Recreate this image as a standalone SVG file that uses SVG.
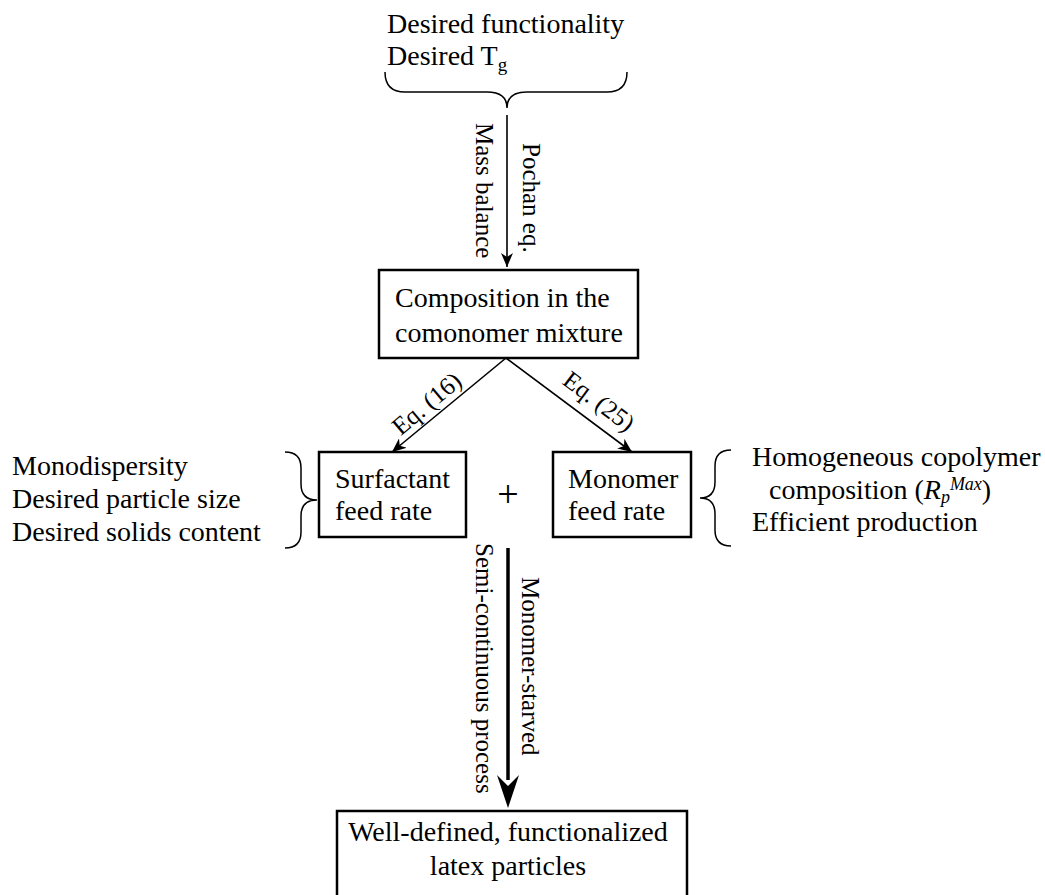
<svg xmlns="http://www.w3.org/2000/svg" width="1045" height="895" viewBox="0 0 1045 895">
<style>
text{font-family:"Liberation Serif","Times New Roman",serif;fill:#000;}
.t{font-size:28px;}
.r{font-size:25px;}
.box{fill:#fff;stroke:#000;stroke-width:2.5;}
.ln{fill:none;stroke:#000;stroke-width:1.6;}
.br{fill:none;stroke:#000;stroke-width:1.5;}
</style>
<defs>
<marker id="ah" markerUnits="userSpaceOnUse" markerWidth="16" markerHeight="12" refX="14" refY="6" orient="auto">
<path d="M0,0 L14,6 L0,12 L4,6 z" fill="#000"/>
</marker>
</defs>
<g id="goals-top">
<text class="t" x="387" y="33">Desired functionality</text>
<text class="t" x="387" y="65">Desired T<tspan font-size="19" dy="6">g</tspan></text>
<path class="br" d="M385,72 Q385,92 405,92 L487,92 Q507,92 507,108 Q507,92 527,92 L607,92 Q627,92 627,72"/>
</g>
<g id="connectors">
<line class="ln" x1="507" y1="115" x2="507" y2="267" marker-end="url(#ah)"/>
<line class="ln" x1="506" y1="358" x2="392" y2="452" marker-end="url(#ah)"/>
<line class="ln" x1="506" y1="358" x2="632" y2="452" marker-end="url(#ah)"/>
<line x1="508" y1="548" x2="508" y2="780" stroke="#000" stroke-width="3.5"/>
<path d="M497,775 L508,808 L519,775 L508,786 z" fill="#000"/>
<text class="r" transform="translate(476,123) rotate(90)">Mass balance</text>
<text class="r" transform="translate(523,143) rotate(90)">Pochan eq.</text>
<text class="r" transform="translate(432,410) rotate(-40)" text-anchor="middle">Eq. (16)</text>
<text class="r" transform="translate(594,408) rotate(37)" text-anchor="middle">Eq. (25)</text>
<text class="r" transform="translate(476,543) rotate(90)">Semi-continuous process</text>
<text class="r" transform="translate(522,577) rotate(90)">Monomer-starved</text>
</g>
<g id="composition">
<rect class="box" x="379" y="270" width="259" height="88"/>
<text class="t" x="395" y="307">Composition in the</text>
<text class="t" x="395" y="342">comonomer mixture</text>
</g>
<g id="surfactant">
<rect class="box" x="319" y="452" width="147" height="85"/>
<text class="t" x="335" y="488">Surfactant</text>
<text class="t" x="335" y="520">feed rate</text>
</g>
<g id="plus">
<text x="508" y="507" text-anchor="middle" font-size="38">+</text>
</g>
<g id="monomer">
<rect class="box" x="553" y="452" width="138" height="85"/>
<text class="t" x="568" y="488">Monomer</text>
<text class="t" x="568" y="520">feed rate</text>
</g>
<g id="goals-left">
<text class="t" x="12" y="475">Monodispersity</text>
<text class="t" x="12" y="508">Desired particle size</text>
<text class="t" x="12" y="541">Desired solids content</text>
<path class="br" d="M285,452 Q301,452 301,468 L301,484 Q301,500 317,500 Q301,500 301,516 L301,532 Q301,548 285,548"/>
</g>
<g id="goals-right">
<text class="t" x="752" y="466">Homogeneous copolymer</text>
<text class="t" x="769" y="499">composition (<tspan font-style="italic">R</tspan><tspan font-style="italic" font-size="18" dy="4">p</tspan><tspan font-style="italic" font-size="18" dy="-13">Max</tspan><tspan dy="9">)</tspan></text>
<text class="t" x="752" y="531">Efficient production</text>
<path class="br" d="M731,450 Q715,450 715,466 L715,482 Q715,498 700,498 Q715,498 715,514 L715,530 Q715,546 731,546"/>
</g>
<g id="result">
<rect class="box" x="337" y="811" width="350" height="100"/>
<text class="t" x="508" y="841" text-anchor="middle">Well-defined, functionalized</text>
<text class="t" x="508" y="875" text-anchor="middle">latex particles</text>
</g>
</svg>
